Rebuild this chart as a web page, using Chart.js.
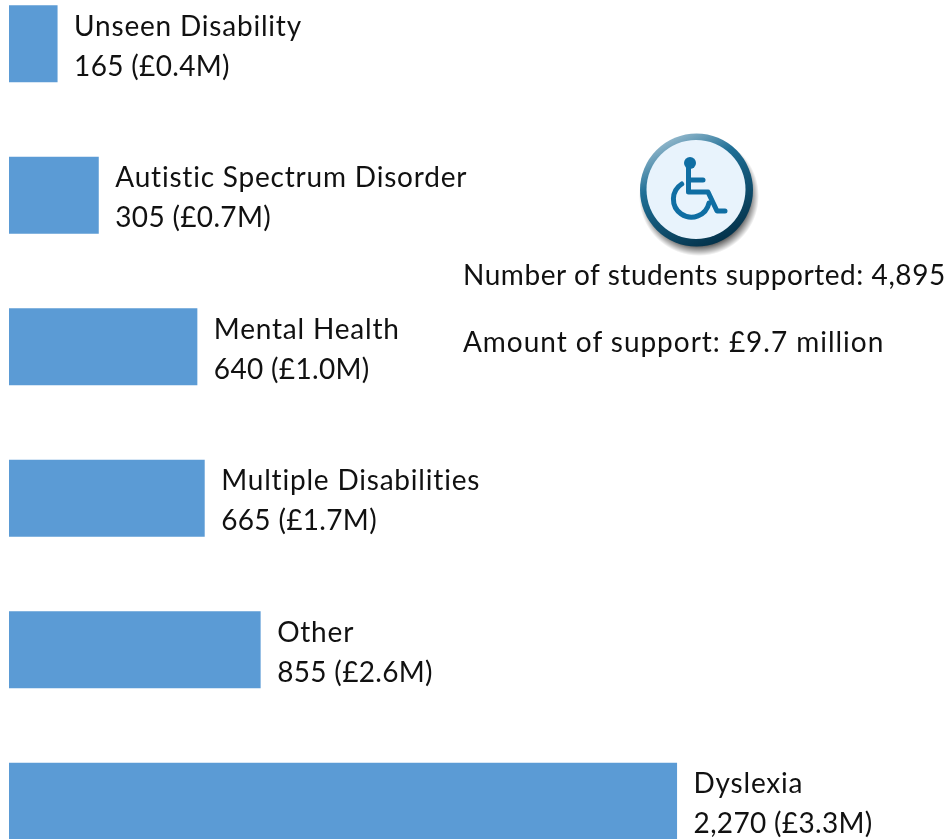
<!DOCTYPE html>
<html><head><meta charset="utf-8">
<style>
html,body{margin:0;padding:0;background:#fff;width:949px;height:839px;overflow:hidden}
#wrap{position:absolute;left:0;top:-32px;width:949px;height:909px}
#icon{position:absolute;left:630px;top:125px;width:135px;height:135px}
.note{position:absolute;left:463px;font:28px Lato,sans-serif;color:#111;white-space:nowrap;line-height:32px}
</style></head><body>
<div id="wrap"><canvas id="c" width="949" height="909"></canvas></div>
<svg id="icon" viewBox="0 0 135 135">
<defs>
<linearGradient id="ring" x1="0.2" y1="0" x2="0.7" y2="1"><stop offset="0" stop-color="#a9c6d6"/><stop offset="0.35" stop-color="#1f6f96"/><stop offset="1" stop-color="#022f47"/></linearGradient>
<radialGradient id="sh" cx="0.5" cy="0.5" r="0.5"><stop offset="0.8" stop-color="#000" stop-opacity="0.75"/><stop offset="1" stop-color="#000" stop-opacity="0"/></radialGradient>
</defs>
<circle cx="69" cy="71" r="60" fill="url(#sh)"/>
<circle cx="66.500" cy="65" r="56.500" fill="url(#ring)"/>
<circle cx="66" cy="64.500" r="49.500" fill="#e8f3fc"/>
<g fill="none" stroke="#0f6ea3" stroke-linecap="round" stroke-linejoin="round">
<circle cx="60" cy="38" r="6" fill="#0f6ea3" stroke="none"/>
<path d="M58.500 40V67H78L87 86H95" stroke-width="5"/>
<path d="M58.500 55H73" stroke-width="5"/>
<path d="M51.700 59A18 18 0 1 0 79 78" stroke-width="5"/>
</g></svg>
<div class="note" style="top:258px;letter-spacing:0.56px">Number of students supported: 4,895</div>
<div class="note" style="top:325px;letter-spacing:0.97px">Amount of support: £9.7 million</div>
<script src="https://cdn.jsdelivr.net/npm/chart.js@4/dist/chart.umd.min.js"></script>
<script>
const categories = ["Unseen Disability","Autistic Spectrum Disorder","Mental Health","Multiple Disabilities","Other","Dyslexia"];
const students = [165,305,640,665,855,2270];
const amounts = ["£0.4M","£0.7M","£1.0M","£1.7M","£2.6M","£3.3M"];
const labelPlugin = {
  id:"barLabels",
  afterDatasetsDraw(chart){
    const ctx = chart.ctx, meta = chart.getDatasetMeta(0);
    ctx.save();
    ctx.font = "28px Lato, sans-serif";
    ctx.fillStyle = "#111";
    ctx.textBaseline = "alphabetic";
    meta.data.forEach((bar,i)=>{
      const x = bar.x + 16.5, y = bar.y;
      ctx.letterSpacing = "0.8px";
      ctx.fillText(categories[i], x, y - 8);
      ctx.letterSpacing = "0.33px";
      ctx.fillText(students[i].toLocaleString("en-GB") + " (" + amounts[i] + ")", x, y + 32);
    });
    ctx.restore();
  }
};
new Chart(document.getElementById("c"),{
  type:"bar",
  data:{labels:categories,datasets:[{data:students,backgroundColor:"#5b9bd5",borderWidth:0,categoryPercentage:1,barPercentage:0.508}]},
  options:{
    indexAxis:"y",responsive:false,animation:false,
    layout:{padding:{left:9,right:0,top:0,bottom:0}},
    plugins:{legend:{display:false},tooltip:{enabled:false}},
    scales:{
      x:{display:false,min:0,max:3194},
      y:{display:false}
    }
  },
  plugins:[labelPlugin]
});
</script>
</body></html>
